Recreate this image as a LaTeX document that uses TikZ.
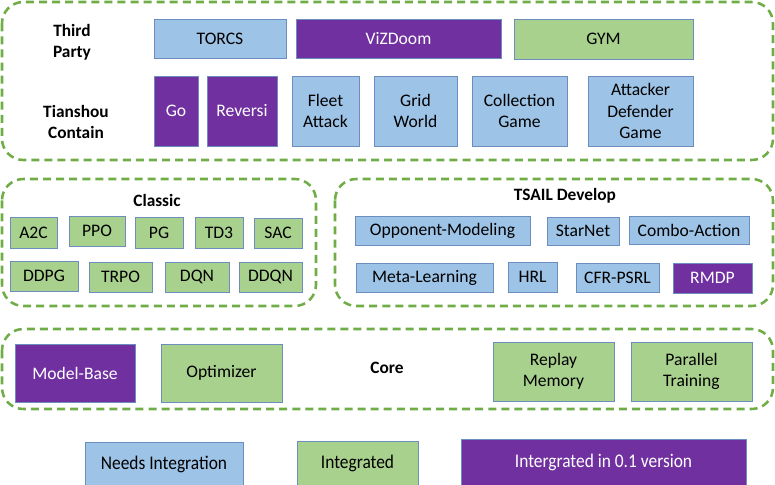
\documentclass[tikz,border=0pt]{standalone}
\usepackage{fontspec}
\setmainfont{Carlito}
\newfontfamily\condfont[FakeStretch=0.9]{Carlito}
\definecolor{cblue}{HTML}{9DC3E6}
\definecolor{cgreen}{HTML}{A9D18E}
\definecolor{cpurple}{HTML}{7030A0}
\definecolor{cframe}{HTML}{70AD47}
\definecolor{cedge}{HTML}{6C8EBF}
\tikzset{
 frame/.style={draw=cframe, line width=1.9pt, dash pattern=on 6pt off 3.8pt, rounded corners=16pt},
 bx/.style={draw=cedge, line width=0.6pt, inner sep=0pt, align=center, font=\fontsize{13.2}{16}\selectfont},
 bbox/.style={bx, fill=cblue, text=black},
 gbox/.style={bx, fill=cgreen, text=black},
 pbox/.style={bx, fill=cpurple, text=white},
 legend/.style={font=\condfont\fontsize{14.5}{17}\selectfont},
 head/.style={font=\fontsize{13}{16}\selectfont\bfseries, align=center},
}
\newcommand\bx[7]{\node[#1, minimum width={(#5-#3)*0.75pt}, minimum height={(#6-#4)*0.75pt}] (#2) at ({(#3+#5)/2},{(#4+#6)/2}) {#7};}
\begin{document}
\begin{tikzpicture}[x=0.75pt,y=-0.75pt]
\useasboundingbox (0,0) rectangle (775,485);
% frames
\draw[frame] (2,2) rectangle (773,160);
\draw[frame] (2,179) rectangle (316,306);
\draw[frame] (335,179) rectangle (773,306);
\draw[frame] (2,329) rectangle (773,409);
% headings
\node[head] (h1) at (72,42) {Third\\Party};
\node[head] (h2) at (76,122) {Tianshou\\Contain};
\node[head] (h3) at (157,200) {Classic};
\node[head] (h4) at (565,196) {TSAIL Develop};
\node[head] (h5) at (387,368) {Core};
% third party
\bx{bbox}{torcs}{154}{19}{286}{58}{TORCS}
\bx{pbox}{vizdoom}{296}{19}{501}{58}{ViZDoom}
\bx{gbox}{gym}{514}{19}{693}{59}{GYM}
% tianshou contain
\bx{pbox}{go}{154}{76}{198}{146}{Go}
\bx{pbox}{reversi}{207}{76}{277}{146}{Reversi}
\bx{bbox}{fleet}{292}{76}{359}{146}{Fleet\\Attack}
\bx{bbox}{grid}{374}{76}{457}{146}{Grid\\World}
\bx{bbox}{coll}{472}{76}{567}{146}{Collection\\Game}
\bx{bbox}{att}{588}{76}{693}{146}{Attacker\\Defender\\Game}
% classic
\bx{gbox}{a2c}{10}{217}{57}{248}{A2C}
\bx{gbox}{ppo}{69}{216}{125}{246}{PPO}
\bx{gbox}{pg}{135}{217}{183}{248}{PG}
\bx{gbox}{td3}{195}{217}{243}{248}{TD3}
\bx{gbox}{sac}{254}{218}{302}{248}{SAC}
\bx{gbox}{ddpg}{10}{261}{78}{291}{DDPG}
\bx{gbox}{trpo}{89}{262}{152}{292}{TRPO}
\bx{gbox}{dqn}{165}{262}{229}{292}{DQN}
\bx{gbox}{ddqn}{239}{262}{302}{292}{DDQN}
% tsail
\bx{bbox}{opp}{355}{216}{530}{245}{Opponent-Modeling}
\bx{bbox}{star}{547}{217}{619}{245}{StarNet}
\bx{bbox}{combo}{629}{216}{749}{244}{Combo-Action}
\bx{bbox}{meta}{356}{263}{493}{292}{Meta-Learning}
\bx{bbox}{hrl}{508}{262}{557}{292}{HRL}
\bx{bbox}{cfr}{576}{263}{659}{292}{CFR-PSRL}
\bx{pbox}{rmdp}{673}{263}{752}{293}{RMDP}
% core
\bx{pbox}{model}{15}{344}{135}{402}{Model-Base}
\bx{gbox}{opt}{161}{344}{282}{402}{Optimizer}
\bx{gbox}{replay}{493}{342}{614}{401}{Replay\\Memory}
\bx{gbox}{par}{631}{342}{752}{401}{Parallel\\Training}
% legend
\bx{bbox, legend}{l1}{85}{442}{243}{486}{Needs Integration}
\bx{gbox, legend}{l2}{297}{441}{418}{486}{Integrated}
\bx{pbox, legend}{l3}{461}{439}{746}{486}{Intergrated in 0.1 version}
\end{tikzpicture}
\end{document}
